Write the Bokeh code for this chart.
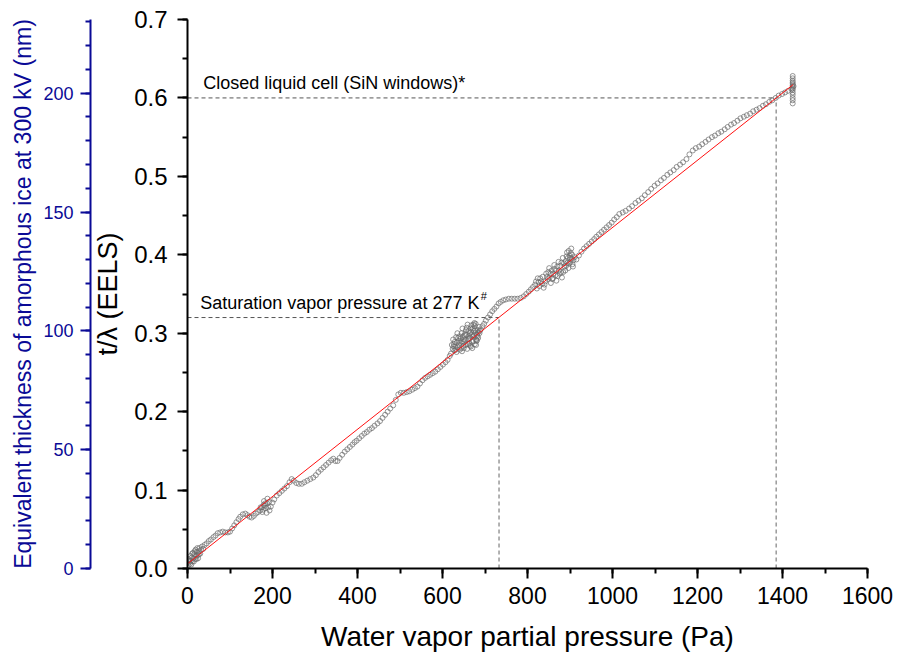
from bokeh.plotting import figure
from bokeh.models import Range1d, LinearAxis, Label, SingleIntervalTicker, PrintfTickFormatter
from bokeh.embed import file_html
from bokeh.resources import INLINE

# ---------------- data ----------------
# (pressure Pa, t/lambda)
seg_origin = [(2,0.004),(4,0.008),(3,0.012),(6,0.006),(8,0.010),(10,0.014),(7,0.016),(12,0.009),
              (14,0.013),(16,0.018),(13,0.020),(18,0.012),(20,0.016),(22,0.021),(19,0.024),(24,0.017),
              (26,0.022),(28,0.026),(25,0.013),(30,0.019),(32,0.024),(34,0.028),(37,0.025),(40,0.030),
              (5,0.010),(9,0.005),(11,0.019),(15,0.009),(17,0.022),(21,0.012),(23,0.026),(27,0.018)]

seg_low = [(45,0.032),(50,0.035),(55,0.037),(61,0.040),(66,0.042),(71,0.045),(77,0.046),(83,0.047),
           (89,0.046),(95,0.046),(100,0.047),(105,0.051),(110,0.055),(115,0.059),(120,0.063),(124,0.066),
           (130,0.069),(136,0.070),(141,0.068),(146,0.066),(151,0.065),(156,0.067),(161,0.070),(166,0.072),
           (171,0.074),(175,0.078),(179,0.081),(183,0.083),(187,0.083),(190,0.078),(193,0.074),(196,0.079),
           (200,0.084),(204,0.088),(210,0.093),(216,0.096),(222,0.099),(228,0.102),(234,0.105),(240,0.110),
           (245,0.114),(250,0.112),(256,0.109),(262,0.108),(269,0.108),(275,0.110),(282,0.112),(289,0.114),
           (296,0.116),(302,0.119),(308,0.123),(314,0.126),(320,0.129),(326,0.132),(332,0.135),(338,0.138),
           (343,0.140),(348,0.137),(353,0.137),(358,0.141),(364,0.145),(370,0.149),(376,0.152),(382,0.155),
           (388,0.158),(393,0.161),(398,0.163),(404,0.166),(410,0.169),(416,0.172),(422,0.174),(428,0.177),
           (434,0.179),(440,0.182),(447,0.185),(453,0.188),(459,0.192),(465,0.196),(471,0.200),(477,0.204),
           (484,0.208),(490,0.215),(496,0.222),(502,0.224),(509,0.224),(516,0.225),(522,0.226),(529,0.228),
           (535,0.230),(541,0.232),(547,0.236),(553,0.240),(559,0.243),(565,0.245),(571,0.247),(577,0.249),
           (583,0.251),(589,0.254),(595,0.257),(601,0.260),(607,0.263),(612,0.266),(617,0.271)]

seg_knot_180 = [(172,0.078),(176,0.072),(180,0.086),(184,0.077),(188,0.089),(178,0.075),(186,0.071),
                (192,0.085),(182,0.080)]

seg_cluster_650 = [(620,0.274),(624,0.280),(627,0.286),(630,0.283),(628,0.278),(633,0.276),(636,0.282),
                   (638,0.290),(640,0.296),(642,0.288),(644,0.281),(646,0.277),(649,0.284),(651,0.292),
                   (653,0.299),(655,0.304),(652,0.297),(650,0.289),(655,0.285),(658,0.280),(660,0.286),
                   (662,0.293),(664,0.300),(666,0.306),(668,0.310),(667,0.302),(665,0.294),(663,0.287),
                   (667,0.283),(670,0.289),(672,0.296),(674,0.303),(676,0.309),(678,0.312),(677,0.304),
                   (675,0.297),(673,0.290),(676,0.286),(679,0.292),(681,0.298),(683,0.304),(682,0.296),
                   (680,0.290),(684,0.294),
                   (622,0.285),(625,0.292),(629,0.289),(632,0.295),(635,0.300),(637,0.294),(639,0.285),
                   (641,0.279),(643,0.293),(645,0.300),(647,0.306),(648,0.296),(650,0.281),(654,0.291),
                   (656,0.298),(657,0.307),(659,0.311),(661,0.303),(663,0.296),(665,0.284),(669,0.298),
                   (671,0.306),(673,0.311),(675,0.313),(677,0.300),(679,0.285),(681,0.291),(684,0.301),
                   (686,0.308),(688,0.303),(646,0.289),(634,0.288),(631,0.279),(626,0.283),(660,0.292),
                   (670,0.281)]

seg_mid = [(687,0.300),(690,0.305),(694,0.309),(698,0.312),(702,0.316),(707,0.320),(712,0.324),
           (717,0.328),(722,0.331),(727,0.334),(732,0.338),(737,0.340),(743,0.342),(749,0.343),
           (756,0.344),(763,0.344),(770,0.344),(777,0.344),(784,0.345),(791,0.347),(797,0.350),
           (803,0.353),(808,0.356),(813,0.359)]

seg_cluster_860 = [(818,0.362),(822,0.357),(826,0.365),(830,0.370),(834,0.363),(838,0.358),(842,0.366),
                   (846,0.372),(849,0.378),(852,0.371),(855,0.364),(858,0.369),(861,0.376),(864,0.382),
                   (866,0.374),(868,0.367),(871,0.373),(874,0.380),(877,0.386),(879,0.378),(881,0.371),
                   (884,0.378),(887,0.385),(890,0.392),(892,0.398),(894,0.390),(896,0.383),(898,0.389),
                   (900,0.396),(902,0.402),(904,0.395),(906,0.388),(908,0.393),(911,0.397),
                   (820,0.366),(824,0.370),(828,0.360),(832,0.366),(836,0.372),(840,0.362),(844,0.376),
                   (848,0.369),(851,0.383),(854,0.376),(857,0.380),(860,0.370),(863,0.387),(867,0.380),
                   (870,0.385),(873,0.391),(876,0.376),(880,0.390),(883,0.396),(886,0.389),(889,0.380),
                   (891,0.386),(893,0.403),(895,0.396),(897,0.405),(899,0.399),(901,0.391),(903,0.408),
                   (905,0.400),(907,0.385)]

seg_upper = [(915,0.394),(921,0.399),(927,0.404),(933,0.408),(939,0.411),(945,0.414),(951,0.417),
             (957,0.420),(962,0.423),(968,0.426),(974,0.429),(980,0.432),(986,0.435),(992,0.438),
             (998,0.441),(1004,0.445),(1010,0.448),(1016,0.452),(1024,0.454),(1031,0.456),(1039,0.459),
             (1046,0.462),(1054,0.466),(1061,0.469),(1069,0.472),(1076,0.476),(1084,0.480),(1091,0.484),
             (1099,0.488),(1106,0.491),(1114,0.495),(1121,0.498),(1129,0.502),(1136,0.505),(1144,0.508),
             (1151,0.512),(1159,0.515),(1166,0.518),(1174,0.522),(1181,0.528),(1189,0.533),(1196,0.536),
             (1204,0.538),(1211,0.541),(1219,0.544),(1226,0.547),(1234,0.550),(1241,0.552),(1249,0.555),
             (1256,0.557),(1264,0.560),(1271,0.563),(1279,0.566),(1286,0.568),(1294,0.571),(1301,0.574),
             (1309,0.576),(1316,0.578),(1324,0.580),(1331,0.583),(1339,0.585),(1346,0.587),(1354,0.590),
             (1361,0.592),(1369,0.595),(1376,0.597),(1384,0.600),(1391,0.603),(1399,0.605),(1406,0.607),
             (1413,0.609)]

seg_end = [(1424,0.593),(1424,0.597),(1424,0.600),(1424,0.604),(1424,0.607),(1424,0.610),(1424,0.612),
           (1424,0.614),(1424,0.616),(1424,0.618),(1424,0.620),(1424,0.622),(1424,0.625),(1424,0.628),
           (1421,0.611),(1426,0.615)]

# linear fit (red line)
fit_p = [0, 1425]
fit_t = [0.006, 0.617]

# reference markers (dashed guides)
guide_t = [0.60, 0.32]
guide_p = [1385, 733]

x_range = (0, 1600)
y_range = (0, 0.70001)
nm_range = (0, 231)

segments = [seg_origin, seg_low, seg_knot_180, seg_cluster_650, seg_mid, seg_cluster_860, seg_upper, seg_end]
pressure = [pt[0] for s in segments for pt in s]
t_lambda = [pt[1] for s in segments for pt in s]

# ---------------- figure ----------------
FONT = "Liberation Sans"
BLUE = "#0A0A96"

p = figure(width=898, height=655, x_range=Range1d(*x_range), y_range=Range1d(*y_range),
           output_backend="svg", toolbar_location=None,
           min_border_left=187, min_border_right=31, min_border_top=19, min_border_bottom=87)
p.extra_y_ranges = {"nm": Range1d(*nm_range)}
p.outline_line_color = None
p.xgrid.visible = False
p.ygrid.visible = False
p.background_fill_color = "white"
p.border_fill_color = "white"

def style_axis(ax, color="black", label_size="23px", title_size="27px"):
    ax.axis_line_width = 2
    ax.axis_line_color = color
    ax.major_tick_line_color = color
    ax.minor_tick_line_color = color
    ax.major_tick_line_width = 2
    ax.minor_tick_line_width = 2
    ax.major_tick_in = 0
    ax.major_tick_out = 10
    ax.minor_tick_in = 0
    ax.minor_tick_out = 5
    ax.major_label_text_font = FONT
    ax.major_label_text_font_size = label_size
    ax.major_label_text_color = color
    ax.axis_label_text_font = FONT
    ax.axis_label_text_font_size = title_size
    ax.axis_label_text_font_style = "normal"
    ax.axis_label_text_color = color

xa = p.xaxis[0]
xa.ticker = SingleIntervalTicker(interval=200, num_minor_ticks=2)
xa.axis_label = "Water vapor partial pressure (Pa)"
style_axis(xa, label_size="23px", title_size="28px")
xa.major_label_standoff = 8
xa.axis_label_standoff = 14

ya = p.yaxis[0]
ya.ticker = SingleIntervalTicker(interval=0.1, num_minor_ticks=2)
ya.formatter = PrintfTickFormatter(format="%.1f")
ya.axis_label = "t/λ (EELS)"
style_axis(ya, label_size="24px", title_size="27px")
ya.major_label_standoff = 10
ya.axis_label_standoff = 8

nm_axis = LinearAxis(y_range_name="nm", axis_label="Equivalent thickness of amorphous ice at 300 kV (nm)",
                     ticker=SingleIntervalTicker(interval=50, num_minor_ticks=5))
style_axis(nm_axis, color=BLUE, label_size="18px", title_size="23px")
nm_axis.major_label_standoff = 7
nm_axis.axis_label_standoff = 4
p.add_layout(nm_axis, "left")

# dashed guides
p.segment(x0=[x_range[0]] * len(guide_t), y0=guide_t, x1=guide_p, y1=guide_t,
          line_color="#555555", line_width=1, line_dash="4 3")
p.segment(x0=guide_p, y0=[y_range[0]] * len(guide_t), x1=guide_p, y1=guide_t,
          line_color="#666666", line_width=1, line_dash="4 3")

# data
p.scatter(pressure, t_lambda, marker="circle", size=5, fill_color=None,
          line_color="#6a6a6a", line_width=0.7)
p.line(fit_p, fit_t, line_color="#FF1010", line_width=1)

# annotations
p.add_layout(Label(x=37, y=0.619, text="Closed liquid cell (SiN windows)*", text_font=FONT,
                   text_font_size="18px", text_color="black", text_baseline="alphabetic"))
p.add_layout(Label(x=30, y=0.339, text="Saturation vapor pressure at 277 K", text_font=FONT,
                   text_font_size="18px", text_color="black", text_baseline="alphabetic"))
p.add_layout(Label(x=690, y=0.3475, text="#", text_font=FONT,
                   text_font_size="11px", text_color="black", text_baseline="alphabetic"))

open("out.html", "w").write(file_html(p, INLINE))
